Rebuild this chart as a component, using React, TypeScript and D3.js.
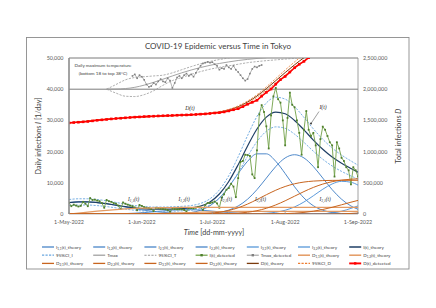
import React from 'react';
import * as d3 from 'd3';

// ---------- DATA ----------
const START_UTC = Date.UTC(2022, 4, 1); // 1-May-2022, day 0
const monthTickDays = [0, 31, 61, 92, 123];
const monthTickLabels = ['1-May-2022', '1-Jun-2022', '1-Jul-2022', '1-Aug-2022', '1-Sep-2022'];
const leftTicks = [0, 10000, 20000, 30000, 40000, 50000];
const rightTicks = [0, 500000, 1000000, 1500000, 2000000, 2500000];

// theory curves sampled at these days (offset from 1-May-2022)
const theoryDays = [0, 4, 8, 12, 16, 20, 24, 28, 32, 36, 40, 44, 48, 52, 56, 60, 64, 68, 72, 76, 80, 84, 88, 92, 96, 100, 104, 108, 112, 116, 120, 123];

const I11 = [3660, 3870, 3870, 3660, 3280, 2780, 2230, 1690, 1210, 820, 530, 320, 185, 100, 52, 25, 11, 0, 0, 0, 0, 0, 0, 0, 0, 0, 0, 0, 0, 0, 0, 0];
const I12 = [0, 0, 3, 9, 25, 62, 134, 261, 455, 709, 989, 1235, 1380, 1380, 1235, 989, 709, 455, 261, 134, 62, 26, 10, 0, 0, 0, 0, 0, 0, 0, 0, 0];
const I21 = [0, 0, 0, 0, 0, 0, 0, 0, 0, 0, 12, 50, 165, 476, 1200, 2650, 5140, 8720, 12970, 16890, 19280, 19280, 16890, 12970, 8720, 5140, 2650, 1200, 476, 165, 50, 20];
const I22 = [0, 0, 0, 0, 0, 0, 0, 0, 0, 0, 0, 0, 0, 0, 73, 211, 541, 1250, 2570, 4740, 7810, 11520, 15210, 17970, 19000, 17970, 15210, 11520, 7810, 4740, 2570, 1510];
const I31 = [0, 0, 0, 0, 0, 0, 0, 0, 0, 0, 0, 0, 0, 0, 0, 0, 0, 0, 0, 30, 90, 240, 565, 1200, 2270, 3850, 5840, 7930, 9630, 10470, 10180, 9260];
const I32 = [0, 0, 0, 0, 0, 0, 0, 0, 0, 0, 0, 0, 0, 0, 0, 0, 0, 0, 0, 0, 0, 0, 0, 0, 0, 0, 0, 100, 350, 900, 1800, 2600];
const Itheory = [3660, 3870, 3873, 3669, 3305, 2842, 2364, 1951, 1665, 1529, 1531, 1605, 1730, 1956, 2560, 3875, 6401, 10425, 15801, 21794, 27242, 31066, 32675, 32140, 29990, 26960, 23700, 20750, 18266, 16275, 14600, 13390];
const ciIUpper = [4636, 4873, 4876, 4646, 4235, 3711, 3171, 2705, 2381, 2228, 2230, 2314, 2455, 2710, 3393, 4879, 7733, 12280, 18355, 25127, 31283, 35605, 37423, 36818, 34389, 30965, 27281, 23948, 21141, 18891, 16998, 15631];
const ciILower = [2684, 2867, 2870, 2692, 2375, 1973, 1557, 1197, 949, 830, 832, 896, 1005, 1202, 1727, 2871, 5069, 8570, 13247, 18461, 23201, 26527, 27927, 27462, 25591, 22955, 20119, 17553, 15391, 13659, 12202, 11149];

const D11 = [0, 15060, 30540, 45600, 59480, 71600, 81620, 89460, 95260, 99320, 102020, 103720, 104730, 105300, 105600, 105760, 105830, 105850, 105860, 105860, 105860, 105860, 105860, 105860, 105860, 105860, 105860, 105860, 105860, 105860, 105860, 105860];
const D12 = [0, 0, 6, 30, 98, 272, 664, 1454, 2886, 5214, 8610, 13058, 18288, 23808, 29038, 33486, 36882, 39210, 40642, 41432, 41824, 42000, 42070, 42090, 42100, 42100, 42100, 42100, 42100, 42100, 42100, 42100];
const D21 = [0, 0, 0, 0, 0, 0, 0, 0, 0, 0, 24, 148, 578, 1860, 5212, 12912, 28492, 56212, 99592, 159312, 231652, 308772, 381112, 440832, 484212, 511932, 527512, 535212, 538564, 539846, 540276, 540380];
const D22 = [0, 0, 0, 0, 0, 0, 0, 0, 0, 0, 0, 0, 0, 0, 146, 714, 2218, 5800, 13440, 28060, 53160, 91820, 145280, 211640, 285580, 359520, 425880, 479340, 518000, 543100, 557720, 563840];
const D31 = [0, 0, 0, 0, 0, 0, 0, 0, 0, 0, 0, 0, 0, 0, 0, 0, 0, 0, 0, 60, 300, 960, 2570, 6100, 13040, 25280, 44660, 72200, 107320, 147520, 188820, 217980];
const D32 = [0, 0, 0, 0, 0, 0, 0, 0, 0, 0, 0, 0, 0, 0, 0, 0, 0, 0, 0, 0, 0, 0, 0, 0, 0, 0, 0, 200, 1100, 3600, 9000, 15600];
const Dtheory = [1460000, 1475060, 1490546, 1505630, 1519578, 1531872, 1542284, 1550914, 1558146, 1564534, 1570654, 1576926, 1583596, 1590968, 1600000, 1612870, 1633422, 1667074, 1719534, 1794724, 1890788, 2009404, 2136886, 2266524, 2390792, 2504692, 2606012, 2694912, 2772944, 2842026, 2903776, 2945761];
const ciDUpper = [1460000, 1476000, 1492000, 1508000, 1523000, 1535000, 1546000, 1555000, 1563000, 1570000, 1576000, 1583000, 1590000, 1598000, 1607000, 1621000, 1642000, 1677000, 1733000, 1811000, 1912000, 2037000, 2171000, 2307000, 2437000, 2557000, 2663000, 2757000, 2839000, 2911000, 2976000, 3020000];
const ciDLower = [1460000, 1474000, 1489000, 1503000, 1517000, 1528000, 1538000, 1546000, 1553000, 1559000, 1565000, 1571000, 1577000, 1584000, 1593000, 1605000, 1625000, 1657000, 1707000, 1778000, 1869000, 1982000, 2103000, 2226000, 2344000, 2452000, 2549000, 2633000, 2707000, 2773000, 2832000, 2871000];

// daily detected infections, 1-May-2022 .. 1-Sep-2022
const iDetected = [
  3600, 2500, 3000, 2700, 2400, 2600, 3900, 3300, 2500, 5100, 4500, 4600, 4300, 4100, 3500, 2000, 4500, 4100, 3900, 3500,
  3300, 2700, 1600, 3700, 3300, 3000, 2700, 2500, 2100, 1200, 2900,
  2600, 2200, 2000, 1900, 1600, 900, 2000, 1900, 1700, 1600, 1500, 1300, 700, 1700, 1600, 1500, 1500, 1500, 1300, 800,
  1900, 1900, 1800, 2000, 2300, 2100, 1300, 2900, 3500, 3500,
  3700, 4000, 3400, 2000, 5300, 6300, 7800, 8300, 9700, 8800, 5400, 11500, 16700, 17000, 19000, 18900, 18600, 12700, 11500, 20400,
  31900, 34900, 32700, 28100, 21000, 31600, 37700, 40400, 36800, 35700, 30000,
  22000, 30800, 38900, 35000, 34200, 30000, 26000, 19000, 27000, 33000, 27000, 25000, 26000, 22000, 15000, 24000, 28000, 27000, 25000, 23000,
  22000, 12000, 23000, 21000, 18000, 17000, 15000, 14000, 9500, 15000, 14000, 12000,
];

// cumulative detected infections, every 2nd day from 1-May-2022
const dDetectedDays = [0, 2, 4, 6, 8, 10, 12, 14, 16, 18, 20, 22, 24, 26, 28, 30, 32, 34, 36, 38, 40, 42, 44, 46, 48, 50, 52, 54, 56, 58, 60, 62, 64, 66, 68, 70, 72, 74, 76, 78, 80, 82, 84, 86, 88, 90, 92, 94, 96, 98, 100, 102];
const dDetected = [1460000, 1465500, 1470600, 1477100, 1482900, 1492500, 1501400, 1509000, 1515500, 1523500, 1530300, 1534600, 1541600, 1547300, 1551900, 1556000, 1560800, 1564700, 1567200, 1571100, 1574400, 1577200, 1579600, 1582700, 1585700, 1587800, 1591600, 1595400, 1599800, 1604000, 1611000, 1618700, 1624100, 1635700, 1651800, 1670300, 1687200, 1720900, 1758800, 1790100, 1822000, 1888800, 1949600, 2002200, 2080300, 2152800, 2204800, 2274500, 2343700, 2399700, 2445700, 2505700];

// daily maximum temperature (°C)
const tmaxDays = [16, 20, 24, 28, 32, 36, 40, 44, 48, 52, 56, 60, 64, 68, 72, 76, 80, 84];
const tmaxTheory = [18.0, 18.1, 18.4, 19.2, 20.6, 22.4, 24.4, 26.5, 28.5, 30.3, 31.9, 33.3, 34.5, 35.5, 36.4, 37.1, 37.7, 38.2];
const ciTDays = [16, 20, 24, 28, 32, 36, 40, 44, 48, 52, 56, 60, 64, 68, 72, 76, 80, 84, 88, 92, 96, 100];
const ciTUpper = [18.0, 21.0, 24.0, 25.5, 26.0, 26.5, 27.0, 28.5, 30.5, 32.5, 34.3, 35.8, 37.0, 38.0, 38.8, 39.4, 39.8, 40.2, 40.5, 40.8, 41.0, 41.2];
const ciTLower = [18.0, 15.5, 13.5, 13.3, 14.5, 17.0, 20.5, 23.5, 25.5, 27.5, 29.3, 30.8, 32.0, 33.0, 34.0, 35.0, 35.7, 36.3, 36.8, 37.3, 37.8, 38.3];
const tmaxDetectedStart = 27;
const tmaxDetected = [26.5, 27.5, 25, 27, 26, 24, 21, 19.5, 20, 22, 21, 23, 24.5, 23, 22.5, 25, 23.5, 18.8, 22, 25.5, 26.5, 25, 27, 28, 26.5, 27.5, 26, 28.5, 31, 33, 34.5, 35, 35.5, 35, 35.3, 34, 33, 30.5, 31.5, 31, 33.5, 32, 31, 33, 30.5, 29, 27, 25, 23.5, 24.5, 28, 31, 32.5, 32, 33, 33.5];

// legend rows
const legendRows = [
  [
    { base: 'I', sub: '1,1', rest: '(t)_theory', key: 'I11' },
    { base: 'I', sub: '1,2', rest: '(t)_theory', key: 'I12' },
    { base: 'I', sub: '2,1', rest: '(t)_theory', key: 'I21' },
    { base: 'I', sub: '2,2', rest: '(t)_theory', key: 'I22' },
    { base: 'I', sub: '3,1', rest: '(t)_theory', key: 'I31' },
    { base: 'I', sub: '3,2', rest: '(t)_theory', key: 'I32' },
    { base: 'I(t)_theory', sub: '', rest: '', key: 'It' },
  ],
  [
    { base: '95%CI_I', sub: '', rest: '', key: 'ciI' },
    { base: 'Tmax', sub: '', rest: '', key: 'Tm' },
    { base: '95%CI_T', sub: '', rest: '', key: 'ciT' },
    { base: 'I(t)_detected', sub: '', rest: '', key: 'Idet' },
    { base: 'Tmax_detected', sub: '', rest: '', key: 'Tdet' },
    { base: 'D', sub: '1,1', rest: '(t)_theory', key: 'D11' },
    { base: 'D', sub: '1,2', rest: '(t)_theory', key: 'D12' },
  ],
  [
    { base: 'D', sub: '2,1', rest: '(t)_theory', key: 'D21' },
    { base: 'D', sub: '2,2', rest: '(t)_theory', key: 'D22' },
    { base: 'D', sub: '3,1', rest: '(t)_theory', key: 'D31' },
    { base: 'D', sub: '3,2', rest: '(t)_theory', key: 'D32' },
    { base: 'D(t)_theory', sub: '', rest: '', key: 'Dt' },
    { base: '95%CI_D', sub: '', rest: '', key: 'ciD' },
    { base: 'D(t)_detected', sub: '', rest: '', key: 'Ddet' },
  ],
];

// curve labels inside the plot
const curveLabels = [
  { sub: '1,1', day: 27.5 },
  { sub: '1,2', day: 49 },
  { sub: '2,1', day: 67 },
  { sub: '2,2', day: 81.5 },
  { sub: '3,1', day: 109 },
];

// ---------- STYLES ----------
type Sty = { color: string; width: number; dash?: string; marker?: string };
const STY: Record<string, Sty> = {
  I11: { color: '#3b7cc4', width: 0.9 },
  I12: { color: '#3b7cc4', width: 0.9 },
  I21: { color: '#3b7cc4', width: 0.9 },
  I22: { color: '#3b7cc4', width: 0.9 },
  I31: { color: '#4a8fd6', width: 0.9 },
  I32: { color: '#4a8fd6', width: 0.9 },
  It: { color: '#1f3f66', width: 1.2 },
  ciI: { color: '#6aa7e0', width: 0.9, dash: '2.2,1.3' },
  Tm: { color: '#9a9a9a', width: 0.9 },
  ciT: { color: '#9a9a9a', width: 0.8, dash: '2.2,1.3' },
  Idet: { color: '#70a047', width: 0.9, marker: '#4f7f2c' },
  Tdet: { color: '#a0a0a0', width: 0.8, marker: '#808080' },
  D11: { color: '#e39a63', width: 1.2 },
  D12: { color: '#e39a63', width: 1.2 },
  D21: { color: '#c8651f', width: 1.0 },
  D22: { color: '#c8651f', width: 1.0 },
  D31: { color: '#c8651f', width: 1.0 },
  D32: { color: '#c8651f', width: 1.0 },
  Dt: { color: '#7a3a0c', width: 1.0 },
  ciD: { color: '#ed7d31', width: 0.8, dash: '2.2,1.3' },
  Ddet: { color: '#ff0000', width: 1.6, marker: '#ff0000' },
};

const SANS = "Lato, 'Liberation Sans', Arial, sans-serif";
const SERIF = "'Liberation Serif', 'DejaVu Serif', serif";

const toDate = (day: number) => new Date(START_UTC + day * 86400000);

export default function App() {
  const L = 69, R = 358, T = 58, B = 214;
  const x = d3.scaleUtc().domain([toDate(0), toDate(123)]).range([L, R]);
  const yL = d3.scaleLinear().domain([0, 50000]).range([B, T]);
  const yR = d3.scaleLinear().domain([0, 2500000]).range([B, T]);
  const yT = d3.scaleLinear().domain([18, 38]).range([yL(40000), yL(50000)]);

  const smooth = (days: number[], vals: number[], y: (v: number) => number) =>
    d3.line<number>().x((_, i) => x(toDate(days[i]))).y((v) => y(v)).curve(d3.curveMonotoneX)(vals) || '';
  const straight = (days: number[], vals: number[], y: (v: number) => number) =>
    d3.line<number>().x((_, i) => x(toDate(days[i]))).y((v) => y(v))(vals) || '';

  const iDays = iDetected.map((_, i) => i);
  const tDays = tmaxDetected.map((_, i) => tmaxDetectedStart + i);

  const path = (d: string, s: Sty, key: string) => (
    <path key={key} d={d} fill="none" stroke={s.color} strokeWidth={s.width} strokeDasharray={s.dash} strokeLinejoin="round" />
  );

  const markers = (days: number[], vals: number[], y: (v: number) => number, color: string, size: number, key: string) => (
    <g key={key} fill={color}>
      {vals.map((v, i) => (
        <rect key={i} x={x(toDate(days[i])) - size / 2} y={y(v) - size / 2} width={size} height={size} />
      ))}
    </g>
  );

  const iComp: [string, number[]][] = [['I11', I11], ['I12', I12], ['I21', I21], ['I22', I22], ['I31', I31], ['I32', I32]];
  const dComp: [string, number[]][] = [['D11', D11], ['D12', D12], ['D21', D21], ['D22', D22], ['D31', D31], ['D32', D32]];

  const subText = (base: string, sub: string, rest: string, fs: number) => (
    <>
      <tspan>{base}</tspan>
      {sub && <tspan dy={fs * 0.28} fontSize={fs * 0.68}>{sub}</tspan>}
      {sub && <tspan dy={-fs * 0.28}>{rest}</tspan>}
    </>
  );

  const legFs = 4.6;

  return (
    <div style={{ position: 'fixed', left: 0, top: 0 }}>
      <svg width={436} height={308} viewBox="0 0 436 308" style={{ display: 'block', background: '#fff' }}>
        <defs>
          <clipPath id="plotClip">
            <rect x={L} y={T} width={R - L} height={B - T} />
          </clipPath>
        </defs>
        {/* outer chart frame */}
        <rect x={26.5} y={37.5} width={382.5} height={231.5} fill="#fff" stroke="#8c8c8c" strokeWidth={0.9} />

        {/* title */}
        <text x={218} y={48.5} textAnchor="middle" fontFamily={SANS} fontSize={8} fill="#404040">
          COVID-19 Epidemic versus Time in Tokyo
        </text>

        {/* plot frame lines */}
        <line x1={L} x2={R} y1={T} y2={T} stroke="#595959" strokeWidth={0.8} />
        <line x1={L} x2={R} y1={yL(40000)} y2={yL(40000)} stroke="#595959" strokeWidth={0.8} />
        <line x1={R} x2={R} y1={T} y2={B} stroke="#8c8c8c" strokeWidth={0.8} />
        <line x1={L} x2={R} y1={B} y2={B} stroke="#a6a6a6" strokeWidth={0.8} />

        {/* series */}
        <g clipPath="url(#plotClip)">
          {iComp.map(([k, v]) => path(smooth(theoryDays, v, yL), STY[k], k))}
          {path(smooth(theoryDays, Itheory, yL), STY.It, 'It')}
          {path(smooth(theoryDays, ciIUpper, yL), STY.ciI, 'ciIu')}
          {path(smooth(theoryDays, ciILower, yL), STY.ciI, 'ciIl')}
          {path(smooth(tmaxDays, tmaxTheory, yT), STY.Tm, 'Tm')}
          {path(smooth(ciTDays, ciTUpper, yT), STY.ciT, 'ciTu')}
          {path(smooth(ciTDays, ciTLower, yT), STY.ciT, 'ciTl')}
          {path(straight(iDays, iDetected, yL), STY.Idet, 'Idet')}
          {markers(iDays, iDetected, yL, STY.Idet.marker!, 1.8, 'IdetM')}
          {path(straight(tDays, tmaxDetected, yT), STY.Tdet, 'Tdet')}
          {markers(tDays, tmaxDetected, yT, STY.Tdet.marker!, 1.6, 'TdetM')}
          {dComp.map(([k, v]) => path(smooth(theoryDays, v, yR), STY[k], k))}
          {path(smooth(theoryDays, Dtheory, yR), STY.Dt, 'Dt')}
          {path(smooth(theoryDays, ciDUpper, yR), STY.ciD, 'ciDu')}
          {path(smooth(theoryDays, ciDLower, yR), STY.ciD, 'ciDl')}
          {path(straight(dDetectedDays, dDetected, yR), STY.Ddet, 'Ddet')}
          {markers(dDetectedDays, dDetected, yR, STY.Ddet.marker!, 2.6, 'DdetM')}
        </g>

        {/* left axis line */}
        <line x1={L} x2={L} y1={T} y2={B} stroke="#8c8c8c" strokeWidth={1.6} />

        {/* x ticks */}
        {monthTickDays.map((d, i) => (
          <g key={i}>
            <line x1={x(toDate(d))} x2={x(toDate(d))} y1={B} y2={B - 2} stroke="#8c8c8c" strokeWidth={0.7} />
            <text x={x(toDate(d))} y={224} textAnchor="middle" fontFamily={SANS} fontSize={5.4} fill="#595959">
              {monthTickLabels[i]}
            </text>
          </g>
        ))}
        {/* left ticks */}
        {leftTicks.map((v) => (
          <text key={v} x={63.5} y={yL(v) + 2} textAnchor="end" fontFamily={SANS} fontSize={5.4} fill="#595959">
            {d3.format(',')(v)}
          </text>
        ))}
        {/* right ticks */}
        {rightTicks.map((v) => (
          <text key={v} x={363} y={yR(v) + 2} textAnchor="start" fontFamily={SANS} fontSize={5.4} fill="#595959">
            {d3.format(',')(v)}
          </text>
        ))}

        {/* axis titles */}
        <text x={214} y={234.5} textAnchor="middle" fontFamily={SANS} fontSize={7.2} fill="#404040">
          <tspan fontStyle="italic">Time</tspan> [dd-mm-yyyy]
        </text>
        <text transform={`translate(40.5,${(T + B) / 2}) rotate(-90)`} textAnchor="middle" fontFamily={SANS} fontSize={7.2} fill="#404040">
          Daily infections <tspan fontStyle="italic">I</tspan> [1/day]
        </text>
        <text transform={`translate(400.5,${(T + B) / 2}) rotate(-90)`} textAnchor="middle" fontFamily={SANS} fontSize={7.2} fill="#404040">
          Total infections <tspan fontStyle="italic">D</tspan>
        </text>

        {/* inset text */}
        <text x={103} y={67} textAnchor="middle" fontFamily={SANS} fontSize={4.6} fill="#404040">
          Daily maximum temperature
        </text>
        <text x={103} y={75} textAnchor="middle" fontFamily={SANS} fontSize={4.6} fill="#404040">
          (bottom 18 to top 38°C)
        </text>

        {/* curve labels */}
        <text x={190} y={110} textAnchor="middle" fontFamily={SERIF} fontStyle="italic" fontSize={5.6} fill="#262626">D(t)</text>
        <text x={323} y={109} textAnchor="middle" fontFamily={SERIF} fontStyle="italic" fontSize={5.6} fill="#262626">I(t)</text>
        <line x1={319} x2={311} y1={111.5} y2={123.5} stroke="#404040" strokeWidth={0.5} />
        <circle cx={311} cy={123.5} r={0.9} fill="#262626" />
        {curveLabels.map((c) => (
          <text key={c.sub} x={x(toDate(c.day))} y={201} textAnchor="middle" fontFamily={SERIF} fontStyle="italic" fontSize={5.2} fill="#262626">
            {subText('I', c.sub, '(t)', 5.2)}
          </text>
        ))}

        {/* legend */}
        {legendRows.map((row, r) =>
          row.map((item, c) => {
            const lx = 42 + c * 51.2;
            const ly = 247 + r * 8.2;
            const s = STY[item.key];
            return (
              <g key={`${r}-${c}`}>
                <line x1={lx} x2={lx + 12} y1={ly} y2={ly} stroke={s.color} strokeWidth={s.width + 0.3} strokeDasharray={s.dash} />
                {s.marker && <rect x={lx + 6 - 1.2} y={ly - 1.2} width={2.4} height={2.4} fill={s.marker} />}
                <text x={lx + 14} y={ly + 1.6} fontFamily={SANS} fontSize={legFs} fill="#404040">
                  {subText(item.base, item.sub, item.rest, legFs)}
                </text>
              </g>
            );
          })
        )}
      </svg>
    </div>
  );
}
